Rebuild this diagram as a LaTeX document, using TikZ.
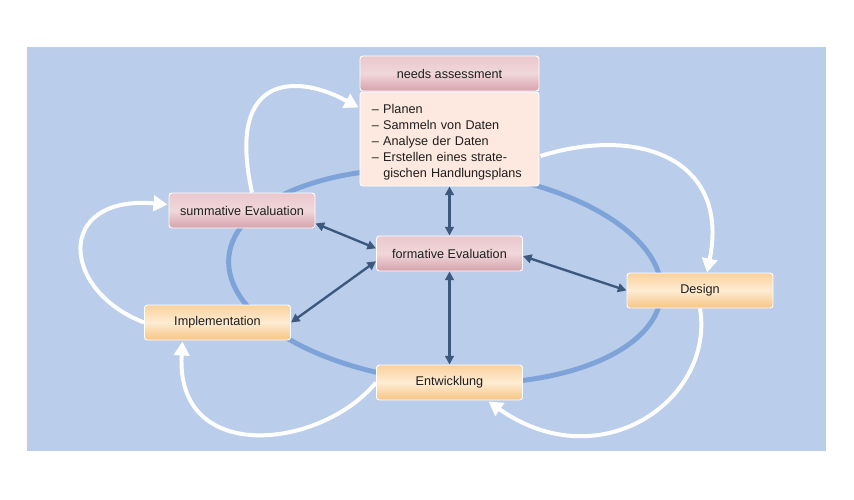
\documentclass[tikz,border=0pt]{standalone}
\usepackage{fontspec}
\setmainfont{Liberation Sans}
\usetikzlibrary{arrows.meta,calc}

\definecolor        {bgColor}{RGB}{186, 205, 234}
\definecolor      {ringColor}{RGB}{125, 163, 216}
\definecolor      {linkColor}{RGB}{ 60,  88, 126}
\definecolor    {evalTopColor}{RGB}{234, 200, 205}
\definecolor    {evalMidColor}{RGB}{240, 215, 218}
\definecolor    {evalBotColor}{RGB}{214, 162, 171}
\definecolor   {phaseTopColor}{RGB}{249, 210, 158}
\definecolor   {phaseMidColor}{RGB}{254, 236, 210}
\definecolor   {phaseBotColor}{RGB}{246, 196, 132}
\definecolor    {needsBodyColor}{RGB}{253, 233, 223}
\definecolor        {textColor}{RGB}{ 30,  30,  30}

\newcommand*\boxFont{\fontsize{10.8}{13.7}\selectfont}

\begin{document}
\begin{tikzpicture}[
  x=0.03cm, y=-0.03cm,
  cycle bg/.style   ={fill=bgColor},
  cycle ring/.style ={draw=ringColor, line width=4.2pt},
  cycle box/.style  ={draw=white, line width=.8pt, rounded corners=2.5pt,
                      minimum width=4.38cm, minimum height=1.05cm,
                      font=\boxFont, text=textColor},
  eval box/.style   ={cycle box, top color=evalTopColor, bottom color=evalBotColor, middle color=evalMidColor},
  phase box/.style  ={cycle box, top color=phaseTopColor, bottom color=phaseBotColor, middle color=phaseMidColor},
  flow arrow/.style ={draw=white, line width=3.4pt, -{Triangle[length=4.2mm, width=4.6mm]}},
  link arrow/.style ={draw=linkColor, line width=2pt,
                      {Triangle[length=2.6mm, width=2.6mm]}-{Triangle[length=2.6mm, width=2.6mm]}},
]
%%%%%%%%%%%%%%%%%%%%%%%%%%%%%%%%%%%%%%%%%%%%%%%%%%%%%%%%%%%%%%%%%%%%%%%%%%%%%%%%%%%%%%%%%
%
%   BACKGROUND + RING
%
%%%%%%%%%%%%%%%%%%%%%%%%%%%%%%%%%%%%%%%%%%%%%%%%%%%%%%%%%%%%%%%%%%%%%%%%%%%%%%%%%%%%%%%%%
\useasboundingbox (0,0) rectangle (854,500);
\fill[cycle bg] (27,47) rectangle (826,451);

\draw[cycle ring, rotate around={-5:(445,276)}] (445,276) ellipse [x radius=217, y radius=106];

%%%%%%%%%%%%%%%%%%%%%%%%%%%%%%%%%%%%%%%%%%%%%%%%%%%%%%%%%%%%%%%%%%%%%%%%%%%%%%%%%%%%%%%%%
%
%   BOXES
%
%%%%%%%%%%%%%%%%%%%%%%%%%%%%%%%%%%%%%%%%%%%%%%%%%%%%%%%%%%%%%%%%%%%%%%%%%%%%%%%%%%%%%%%%%
\node[eval box, minimum width=5.37cm] (needs) at (449.5,73.5) {needs assessment};
\node[cycle box, fill=needsBodyColor, minimum width=5.37cm, minimum height=2.82cm,
      text width=4.65cm, align=left] (needsbody) at (449.5,139)
  {\rule{0pt}{13pt}-- Planen\\
   -- Sammeln von Daten\\
   -- Analyse der Daten\\
   -- Erstellen eines strate-\\
   \phantom{-- }gischen Handlungsplans};

\node[eval box]  (summ)   at (242,210.5)   {summative Evaluation};
\node[eval box]  (form)   at (449.5,253.5) {formative Evaluation};
\node[phase box] (impl)   at (217.5,322.5) {Implementation};
\node[phase box] (entw)   at (449.5,382.5) {Entwicklung};
\node[phase box] (design) at (700,290.5)   {Design};

%%%%%%%%%%%%%%%%%%%%%%%%%%%%%%%%%%%%%%%%%%%%%%%%%%%%%%%%%%%%%%%%%%%%%%%%%%%%%%%%%%%%%%%%%
%
%   ARROWS
%
%%%%%%%%%%%%%%%%%%%%%%%%%%%%%%%%%%%%%%%%%%%%%%%%%%%%%%%%%%%%%%%%%%%%%%%%%%%%%%%%%%%%%%%%%
%% outer cycle
\draw[flow arrow] ($(summ.north)+(10,0)$)
  .. controls (225,70) and (300,75) .. ($(needsbody.north west)+(-1,16)$);
\draw[flow arrow] ($(needsbody.east)+(1,17)$)
  .. controls (640,125) and (730,160) .. ($(design.north)+(7,0)$);
\draw[flow arrow] (design.south)
  .. controls (715,400) and (600,480) .. ($(entw.south)+(39,1)$);
\draw[flow arrow] (entw.west)
  .. controls (320,450) and (175,465) .. ($(impl.south)+(-35,1)$);
\draw[flow arrow] (impl.west)
  .. controls (60,290) and (55,195) .. ($(summ.west)+(-1,-6)$);

%% links to formative evaluation
\draw[link arrow] (needsbody.south) -- (form.north);
\draw[link arrow] (summ.-10) -- (form.176);
\draw[link arrow] (form.186) -- (impl.east);
\draw[link arrow] (form.-2)  -- (design.west);
\draw[link arrow] (form.south) -- (entw.north);

\end{tikzpicture}
\end{document}
